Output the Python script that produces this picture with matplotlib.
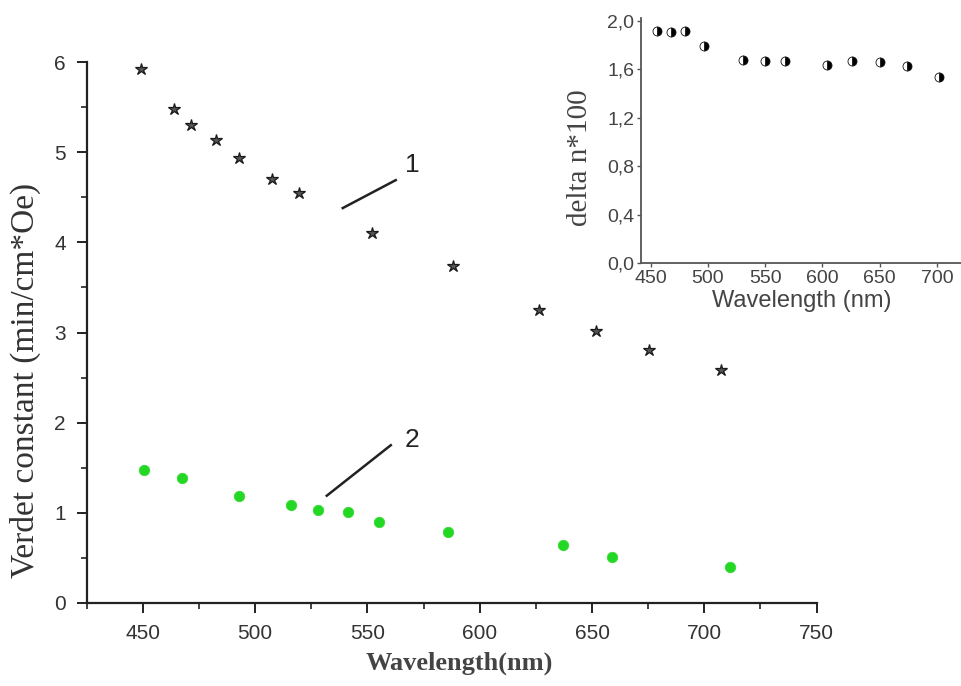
import matplotlib
matplotlib.use('Agg')
import matplotlib.pyplot as plt
from matplotlib.ticker import MultipleLocator, FuncFormatter

# curve 1 (stars), curve 2 (green dots)
wl_1 = [449.1, 464.1, 471.6, 482.7, 492.9, 507.3, 519.6, 551.9, 588.2, 626.5, 651.9, 675.3, 707.3]
verdet_1 = [5.92, 5.48, 5.30, 5.14, 4.94, 4.70, 4.55, 4.10, 3.74, 3.25, 3.02, 2.81, 2.58]

wl_2 = [450.4, 467.5, 493.0, 515.9, 528.1, 541.3, 555.2, 586.0, 637.2, 658.9, 711.6]
verdet_2 = [1.475, 1.386, 1.19, 1.087, 1.03, 1.01, 0.895, 0.79, 0.643, 0.507, 0.396]

# inset: birefringence
wl_dn = [455.8, 467.7, 480.0, 496.9, 531.0, 549.9, 567.7, 604.4, 626.0, 650.7, 673.8, 702.0]
delta_n = [1.918, 1.905, 1.918, 1.79, 1.68, 1.668, 1.668, 1.633, 1.665, 1.657, 1.627, 1.537]

serif = ['Liberation Serif', 'DejaVu Serif']
sans = ['Liberation Sans', 'DejaVu Sans']

fig = plt.figure(figsize=(9.62, 6.86), dpi=100)

# main plot
ax = fig.add_axes([0.0901, 0.121, 0.7588, 0.7886])
ax.plot(wl_1, verdet_1, linestyle='none', marker='*', markersize=9,
        markerfacecolor='#555555', markeredgecolor='#1a1a1a', markeredgewidth=0.9)
ax.plot(wl_2, verdet_2, linestyle='none', marker='o', markersize=7.5,
        markerfacecolor='#22d822', markeredgecolor='#3ad83a', markeredgewidth=0.6)

ax.set_xlim(425, 750)
ax.set_ylim(0, 6)
ax.spines['top'].set_visible(False)
ax.spines['right'].set_visible(False)
for s in ['left', 'bottom']:
    ax.spines[s].set_linewidth(1.6)
    ax.spines[s].set_color('#222222')
ax.xaxis.set_major_locator(MultipleLocator(50))
ax.xaxis.set_minor_locator(MultipleLocator(25))
ax.yaxis.set_major_locator(MultipleLocator(1))
ax.yaxis.set_minor_locator(MultipleLocator(0.5))
ax.tick_params(which='major', direction='out', length=7, width=1.4, color='#222222',
               labelsize=15, labelcolor='#333333', pad=8)
ax.tick_params(which='minor', direction='out', length=4, width=1.2, color='#222222')
for lab in ax.get_xticklabels() + ax.get_yticklabels():
    lab.set_family(sans)

ax.set_xlabel('Wavelength(nm)', family=serif, fontsize=19, fontweight='bold', color='#444444')
ax.set_ylabel('Verdet constant (min/cm*Oe)', family=serif, fontsize=24, color='#333333')
ax.xaxis.set_label_coords(0.511, -0.09)
ax.yaxis.set_label_coords(-0.062, 0.412)

# curve labels
ax.plot([539.0, 562.6], [4.38, 4.69], color='#222222', linewidth=1.8)
ax.text(570.2, 4.86, '1', family=sans, fontsize=19, color='#222222', ha='center', va='center')
ax.plot([531.9, 560.4], [1.19, 1.75], color='#222222', linewidth=1.8)
ax.text(570.0, 1.81, '2', family=sans, fontsize=19, color='#222222', ha='center', va='center')

# inset
ins = fig.add_axes([0.6663, 0.6162, 0.3337, 0.357])
ins.plot(wl_dn, delta_n, linestyle='none', marker='o', markersize=6.5, fillstyle='right',
         markerfacecolor='black', markerfacecoloralt='white', markeredgecolor='#111111',
         markeredgewidth=0.6)
ins.set_xlim(441.5, 722)
ins.set_ylim(0, 2.02)
ins.spines['top'].set_visible(False)
ins.spines['right'].set_visible(False)
for s in ['left', 'bottom']:
    ins.spines[s].set_linewidth(1.3)
    ins.spines[s].set_color('#555555')
ins.xaxis.set_major_locator(MultipleLocator(50))
ins.yaxis.set_major_locator(MultipleLocator(0.4))
ins.yaxis.set_major_formatter(FuncFormatter(lambda v, p: f'{v:.1f}'.replace('.', ',')))
ins.tick_params(which='major', direction='out', length=3, width=1.0, color='#555555',
                labelsize=14, labelcolor='#444444', pad=2)
for lab in ins.get_xticklabels() + ins.get_yticklabels():
    lab.set_family(sans)
ins.set_xlabel('Wavelength (nm)', family=sans, fontsize=17, color='#444444', labelpad=2)
ins.set_ylabel('delta n*100', family=serif, fontsize=21, color='#444444')
ins.yaxis.set_label_coords(-0.15, 0.43)

fig.savefig('out.png', dpi=100, facecolor='white')
